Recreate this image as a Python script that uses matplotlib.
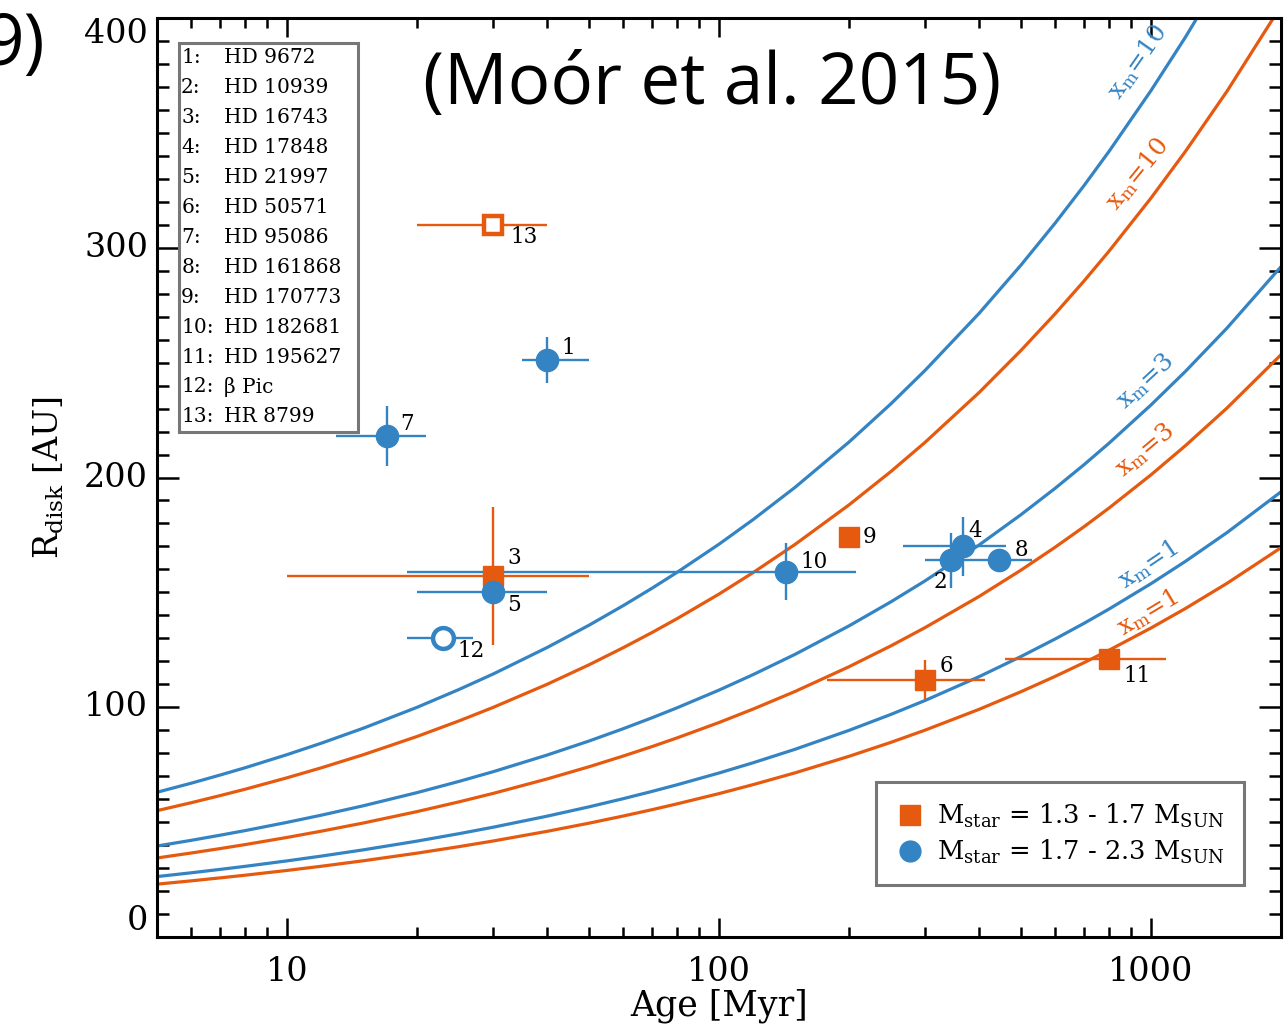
import matplotlib
matplotlib.use("Agg")
import matplotlib.pyplot as plt
import matplotlib.transforms as mtransforms
from matplotlib.ticker import MultipleLocator, LogLocator, FixedLocator, NullFormatter
from matplotlib.lines import Line2D
from matplotlib.patches import Rectangle
import numpy as np

plt.rcParams['font.family'] = ['DejaVu Serif']
plt.rcParams['mathtext.fontset'] = 'dejavuserif'

BLUE = '#3484c4'
ORANGE = '#e65a0f'

# stars: id, mass group (O = 1.3-1.7, B = 1.7-2.3), age [Myr], disk radius [AU]
star_ids = [1, 2, 3, 4, 5, 6, 7, 8, 9, 10, 11, 12, 13]
group = ['B', 'B', 'O', 'B', 'B', 'O', 'B', 'B', 'O', 'B', 'O', 'B', 'O']
age = [40, 345, 30, 367, 30, 300, 17, 445, 200, 143, 800, 23, 30]
age_lo = [35, 300, 10, 267, 20, 178, 13, 400, 200, 19, 458, 19, 20]
age_hi = [50, 400, 50, 462, 40, 413, 21, 530, 200, 208, 1084, 27, 40]
r_disk = [251, 164, 157, 170, 150, 112, 218, 164, 174, 159, 121, 130, 310]
r_err = [10, 12, 30, 13, 0, 8.5, 13, 5, 0, 12.5, 4, 0, 0]
is_open = [False] * 11 + [True, True]

names = ['HD 9672', 'HD 10939', 'HD 16743', 'HD 17848', 'HD 21997', 'HD 50571',
         'HD 95086', 'HD 161868', 'HD 170773', 'HD 182681', 'HD 195627',
         'β Pic', 'HR 8799']

# label offsets of the numbers next to each point (points)
lab_dx = [15, -8, 15, 9, 15, 15, 15, 16, 15, 20, 20, 20, 22]
lab_dy = [9, -16, 13, 11, -9, 10, 9, 7, 0, 7, -12, -9, -9]

# self-stirring curves, R_disk [AU] read at these ages [Myr]
curve_age = [5, 6, 7, 8, 10, 12, 15, 20, 25, 30, 40, 50, 60, 70, 80, 100, 120, 150,
             200, 250, 300, 400, 500, 600, 700, 800, 1000, 1200, 1500, 2000]
blue_xm10 = [63, 66.95, 70.5, 73.68, 79.38, 84.35, 90.85, 99.98, 107.73, 114.47,
             126, 135.7, 144.23, 151.83, 158.75, 170.98, 181.72, 195.74, 215.46,
             232.09, 246.65, 271.46, 292.45, 310.74, 327.1, 342.01, 368.42, 391.51,
             421.72, 464.18]
orange_xm10 = [55, 58.45, 61.55, 64.33, 69.3, 73.64, 79.31, 87.29, 94.05, 99.94,
               110, 118.47, 125.92, 132.55, 138.59, 149.27, 158.65, 170.89, 188.1,
               202.62, 215.33, 236.99, 255.31, 271.28, 285.56, 298.58, 321.64, 341.8,
               368.17, 405.24]
blue_xm3 = [39.6, 42.08, 44.31, 46.32, 49.9, 53.02, 57.1, 62.85, 67.72, 71.95,
            79.2, 85.3, 90.66, 95.44, 99.78, 107.47, 114.23, 123.04, 135.43,
            145.89, 155.03, 170.63, 183.82, 195.32, 205.6, 214.98, 231.58, 246.09,
            265.08, 291.77]
orange_xm3 = [34.4, 36.56, 38.49, 40.23, 43.34, 46.06, 49.6, 54.59, 58.82, 62.5,
              68.8, 74.1, 78.76, 82.9, 86.68, 93.36, 99.23, 106.88, 117.65,
              126.73, 134.68, 148.23, 159.68, 169.67, 178.6, 186.75, 201.17, 213.78,
              230.27, 253.46]
blue_xm1 = [26.3, 27.95, 29.43, 30.76, 33.14, 35.21, 37.92, 41.74, 44.97, 47.79,
            52.6, 56.65, 60.21, 63.38, 66.27, 71.38, 75.86, 81.71, 89.95,
            96.89, 102.96, 113.32, 122.08, 129.72, 136.55, 142.78, 153.8, 163.44,
            176.05, 193.78]
orange_xm1 = [23, 24.44, 25.74, 26.9, 28.98, 30.79, 33.17, 36.5, 39.33, 41.79,
              46, 49.54, 52.66, 55.43, 57.96, 62.42, 66.34, 71.46, 78.66,
              84.73, 90.05, 99.1, 106.77, 113.45, 119.42, 124.86, 134.5, 142.93,
              153.96, 169.46]

x_ticks = [10, 100, 1000]
y_ticks = [0, 100, 200, 300, 400]

fig = plt.figure(figsize=(12.88, 10.29), dpi=100)
ax = fig.add_axes([0.1219, 0.0894, 0.8727, 0.8931])

curves = [(blue_xm10, BLUE, '10', 933, 381, 55),
          (orange_xm10, ORANGE, '10', 933, 332, 51),
          (blue_xm3, BLUE, '3', 968, 242, 43),
          (orange_xm3, ORANGE, '3', 968, 212, 40),
          (blue_xm1, BLUE, '1', 984, 162, 34),
          (orange_xm1, ORANGE, '1', 984, 141, 31)]
for vals, col, xm, tx, ty, rot in curves:
    ax.plot(curve_age, vals, color=col, lw=2.3, zorder=2)
    ax.text(tx, ty, r'$\mathrm{x_m}$=' + xm, color=col, fontsize=18,
            rotation=rot, ha='center', va='center', rotation_mode='anchor')

# error bars + points
for i in range(len(star_ids)):
    col = BLUE if group[i] == 'B' else ORANGE
    xe = [[age[i] - age_lo[i]], [age_hi[i] - age[i]]]
    ye = r_err[i] if r_err[i] > 0 else None
    ax.errorbar([age[i]], [r_disk[i]], xerr=xe, yerr=ye, fmt='none',
                ecolor=col, elinewidth=1.7, capsize=0, zorder=3)
for i in range(len(star_ids)):
    col = BLUE if group[i] == 'B' else ORANGE
    mk = 'o' if group[i] == 'B' else 's'
    ms = 16 if mk == 'o' else 14
    if is_open[i]:
        ax.plot(age[i], r_disk[i], marker=mk, ms=ms - 1, mfc='white', mec=col,
                mew=3.2, zorder=4)
    else:
        ax.plot(age[i], r_disk[i], marker=mk, ms=ms, color=col, zorder=4)
    ax.annotate(str(star_ids[i]), (age[i], r_disk[i]), xytext=(lab_dx[i], lab_dy[i]),
                textcoords='offset points', ha='center', va='center', fontsize=15.5,
                zorder=5)

ax.set_xscale('log')
ax.set_xlim(5, 2000)
ax.set_ylim(0, 400)

ax.xaxis.set_major_locator(FixedLocator(x_ticks))
ax.set_xticklabels([str(v) for v in x_ticks])
ax.xaxis.set_minor_locator(LogLocator(base=10, subs=np.arange(2, 10)))
ax.xaxis.set_minor_formatter(NullFormatter())
ax.yaxis.set_major_locator(FixedLocator(y_ticks))
ax.yaxis.set_minor_locator(MultipleLocator(10))

ax.tick_params(which='both', direction='in', top=True, right=True, width=1.8,
               labelsize=24)
ax.tick_params(axis='x', which='major', length=14, pad=14)
ax.tick_params(axis='x', which='minor', length=7)
ax.tick_params(axis='y', which='major', length=16, labelleft=False)
ax.tick_params(axis='y', which='minor', length=8.5)
for s in ax.spines.values():
    s.set_linewidth(2.2)

# y tick labels, end labels kept inside the axis range
ytrans = mtransforms.blended_transform_factory(ax.transAxes, ax.transData)
for v in y_ticks:
    va = 'bottom' if v == y_ticks[0] else ('top' if v == y_ticks[-1] else 'center')
    ax.text(-0.008, v, str(v), transform=ytrans, fontsize=24, ha='right', va=va)

ax.set_xlabel('Age [Myr]', fontsize=25, labelpad=0)
ax.set_ylabel(r'R$_{\rm disk}$ [AU]', fontsize=24, labelpad=62)

# id box
ax.add_patch(Rectangle((0.0196, 0.5495), 0.1592, 0.4233, transform=ax.transAxes,
                       fill=True, facecolor='white', edgecolor='#777777', lw=2.2,
                       zorder=6))
for k, nm in enumerate(names):
    yy = 0.9565 - k * 0.03254
    ax.text(0.0215, yy, '%d:' % star_ids[k], transform=ax.transAxes, fontsize=14.5,
            ha='left', va='center', zorder=7)
    ax.text(0.0595, yy, nm, transform=ax.transAxes, fontsize=14.5,
            ha='left', va='center', zorder=7)

handles = [Line2D([], [], ls='none', marker='s', ms=14, color=ORANGE),
           Line2D([], [], ls='none', marker='o', ms=15, color=BLUE)]
leg = ax.legend(handles, [r'M$_{\rm star}$ = 1.3 - 1.7 M$_{\rm SUN}$',
                          r'M$_{\rm star}$ = 1.7 - 2.3 M$_{\rm SUN}$'],
                loc='lower right', bbox_to_anchor=(0.967, 0.0566), borderaxespad=0,
                fontsize=18.5, fancybox=False, framealpha=1, handletextpad=0.45,
                handlelength=1.2, labelspacing=0.3, borderpad=0.75)
leg.get_frame().set_edgecolor('#777777')
leg.get_frame().set_linewidth(2.2)

fig.text(0.553, 0.917, '(Moór et al. 2015)', fontsize=51, family='Open Sans',
         ha='center', va='center')
fig.text(45 / 1288, 0.955, '9)', fontsize=51, family='Open Sans',
         ha='right', va='center')

fig.savefig('out.png', dpi=100)
